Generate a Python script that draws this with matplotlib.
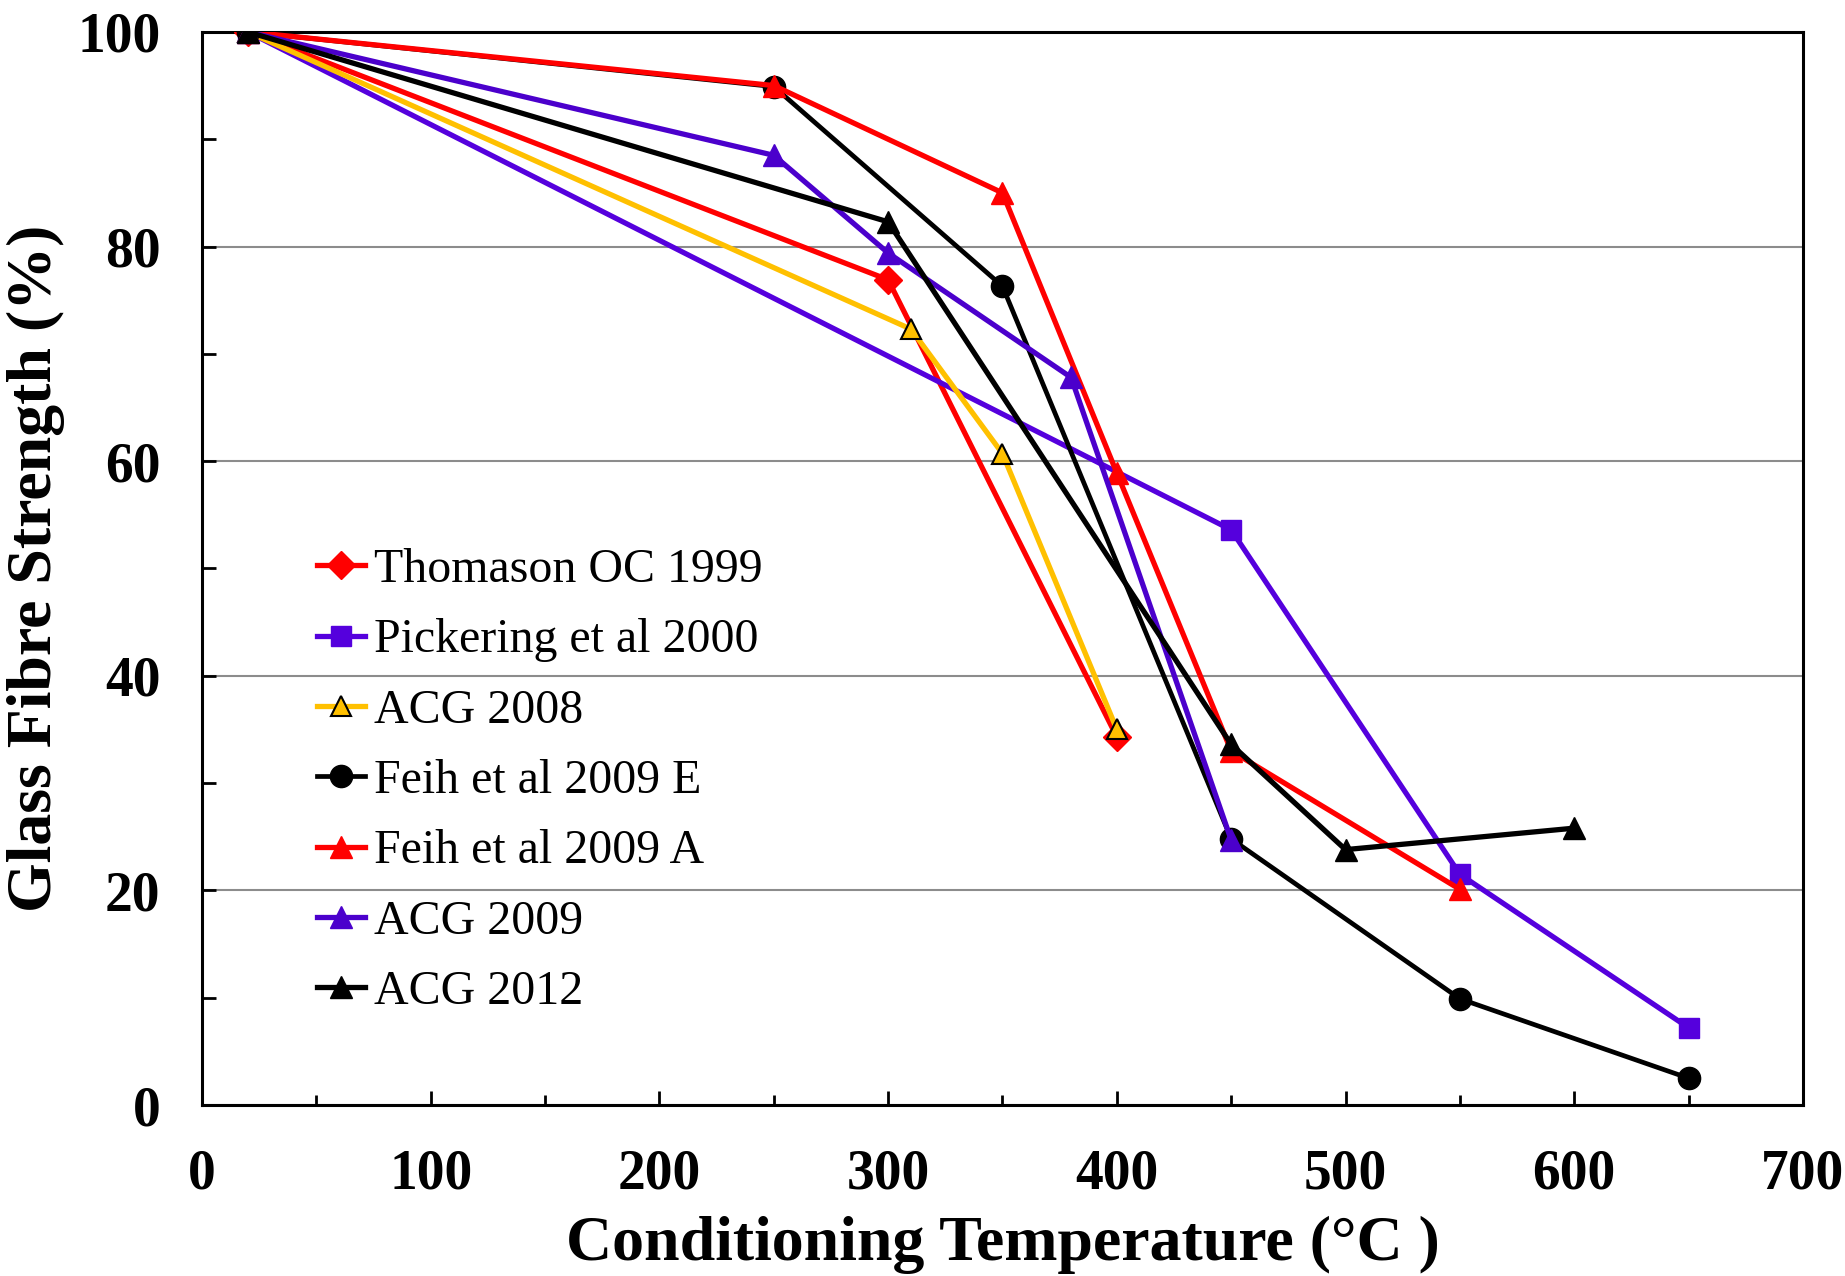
import matplotlib
matplotlib.use("Agg")
import matplotlib.pyplot as plt
from matplotlib.ticker import MultipleLocator

plt.rcParams['font.family'] = ['Liberation Serif', 'DejaVu Serif']

# Data
thom_x = [20, 300, 400]
thom_y = [100, 76.9, 34.3]
pick_x = [20, 450, 550, 650]
pick_y = [100, 53.6, 21.5, 7.2]
acg08_x = [20, 310, 350, 400]
acg08_y = [100, 72.3, 60.7, 35.0]
feihE_x = [20, 250, 350, 450, 550, 650]
feihE_y = [100, 94.9, 76.3, 24.8, 9.9, 2.5]
feihA_x = [20, 250, 350, 400, 450, 550]
feihA_y = [100, 95.0, 85.0, 58.9, 33.0, 20.1]
acg09_x = [20, 250, 300, 380, 450]
acg09_y = [100, 88.5, 79.4, 67.8, 24.7]
acg12_x = [20, 300, 450, 500, 600]
acg12_y = [100, 82.3, 33.6, 23.8, 25.8]

labels = ["Thomason OC 1999", "Pickering et al 2000", "ACG 2008",
          "Feih et al 2009 E", "Feih et al 2009 A", "ACG 2009", "ACG 2012"]
x_ticks = [0, 100, 200, 300, 400, 500, 600, 700]
y_ticks = [0, 20, 40, 60, 80, 100]

RED = "#FF0000"
PURP1 = "#5500DD"
PURP2 = "#4B00CC"
ORANGE = "#FFC000"
BLACK = "#000000"

fig = plt.figure(figsize=(18.45, 12.76), dpi=100)
ax = fig.add_axes([0.1095, 0.134, 0.8677, 0.841])

lw = 3.8
ax.plot(thom_x, thom_y, color=RED, lw=lw, marker='D', ms=14, mec=RED, mfc=RED, label=labels[0], zorder=3)
ax.plot(pick_x, pick_y, color=PURP1, lw=lw, marker='s', ms=15, mec=PURP1, mfc=PURP1, label=labels[1], zorder=3)
ax.plot(acg08_x, acg08_y, color=ORANGE, lw=lw, marker='^', ms=15, mec=BLACK, mew=1.5, mfc=ORANGE, label=labels[2], zorder=3)
ax.plot(feihE_x, feihE_y, color=BLACK, lw=3.4, marker='o', ms=16, mec=BLACK, mfc=BLACK, label=labels[3], zorder=3)
ax.plot(feihA_x, feihA_y, color=RED, lw=lw, marker='^', ms=16, mec=RED, mfc=RED, label=labels[4], zorder=3)
ax.plot(acg09_x, acg09_y, color=PURP2, lw=lw, marker='^', ms=16, mec=PURP2, mfc=PURP2, label=labels[5], zorder=3)
ax.plot(acg12_x, acg12_y, color=BLACK, lw=lw, marker='^', ms=16, mec=BLACK, mfc=BLACK, label=labels[6], zorder=3)

ax.set_xlim(0, 700)
ax.set_ylim(0, 100)
ax.set_xticks(x_ticks)
ax.set_yticks(y_ticks)
ax.xaxis.set_minor_locator(MultipleLocator(50))
ax.yaxis.set_minor_locator(MultipleLocator(10))
ax.tick_params(axis='x', which='major', direction='in', length=10, width=2, pad=31)
ax.tick_params(axis='x', which='minor', direction='in', length=7, width=2)
ax.tick_params(axis='y', which='both', direction='in', length=10, width=2, pad=30)
ax.tick_params(axis='both', which='major', labelsize=40)
for lab in ax.get_xticklabels() + ax.get_yticklabels():
    lab.set_fontweight('bold')

ax.grid(axis='y', which='major', color='#8c8c8c', lw=1.5, zorder=0)
ax.set_axisbelow(True)
for s in ax.spines.values():
    s.set_linewidth(2.2)
    s.set_color('black')

ax.set_xlabel("Conditioning Temperature (°C )", fontsize=46, fontweight='bold', labelpad=11)
ax.set_ylabel("Glass Fibre Strength (%)", fontsize=46, fontweight='bold', labelpad=9)

leg = ax.legend(loc='upper left', bbox_to_anchor=(0.0596, 0.537), frameon=False,
                fontsize=34.5, handlelength=1.0, handletextpad=0.2,
                labelspacing=0.55, borderaxespad=0)

fig.savefig("out.png", dpi=100)
